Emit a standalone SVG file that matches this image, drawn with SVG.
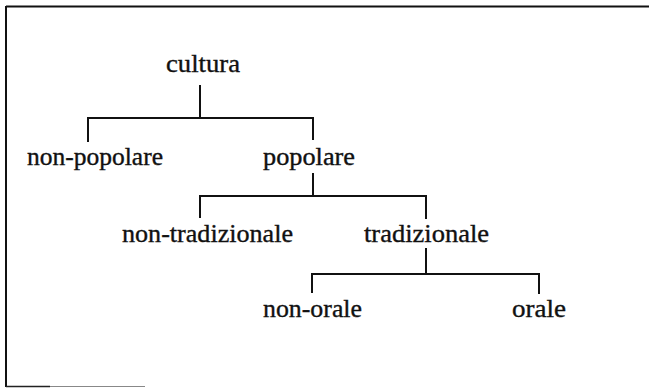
<svg xmlns="http://www.w3.org/2000/svg" width="649" height="388" viewBox="0 0 649 388">
<style>
.t{font-family:"Liberation Serif","DejaVu Serif",serif;font-size:24.5px;fill:#111;stroke:#111;stroke-width:0.35;text-anchor:middle}
.c{stroke:#111;stroke-width:2;fill:none}
.b{stroke:#111;stroke-width:2;fill:none}
</style>
<rect width="649" height="388" fill="#fff"/>
<g id="frame">
<path class="b" d="M6,6.5 H649 M6,6 V387"/>
<path d="M6,386.5 H50" stroke="#222" stroke-width="1.5"/>
<path d="M50,386.5 H145" stroke="#888" stroke-width="1.2"/>
</g>
<g id="connectors">
<path class="c" d="M200,85 V118 M88,142 V118 H313 V140"/>
<path class="c" d="M313,173 V196 M200,218 V196 H426 V219"/>
<path class="c" d="M426,248 V274 M312,293 V274 H539 V294"/>
</g>
<g id="n-cultura"><text class="t" x="203" y="72" textLength="74" lengthAdjust="spacingAndGlyphs">cultura</text></g>
<g id="n-nonpopolare"><text class="t" x="95" y="165" textLength="136" lengthAdjust="spacingAndGlyphs">non-popolare</text></g>
<g id="n-popolare"><text class="t" x="309" y="165" textLength="92" lengthAdjust="spacingAndGlyphs">popolare</text></g>
<g id="n-nontradizionale"><text class="t" x="207.5" y="242" textLength="171" lengthAdjust="spacingAndGlyphs">non-tradizionale</text></g>
<g id="n-tradizionale"><text class="t" x="426.5" y="242" textLength="125" lengthAdjust="spacingAndGlyphs">tradizionale</text></g>
<g id="n-nonorale"><text class="t" x="312.5" y="317" textLength="99" lengthAdjust="spacingAndGlyphs">non-orale</text></g>
<g id="n-orale"><text class="t" x="539" y="317" textLength="54" lengthAdjust="spacingAndGlyphs">orale</text></g>
</svg>
